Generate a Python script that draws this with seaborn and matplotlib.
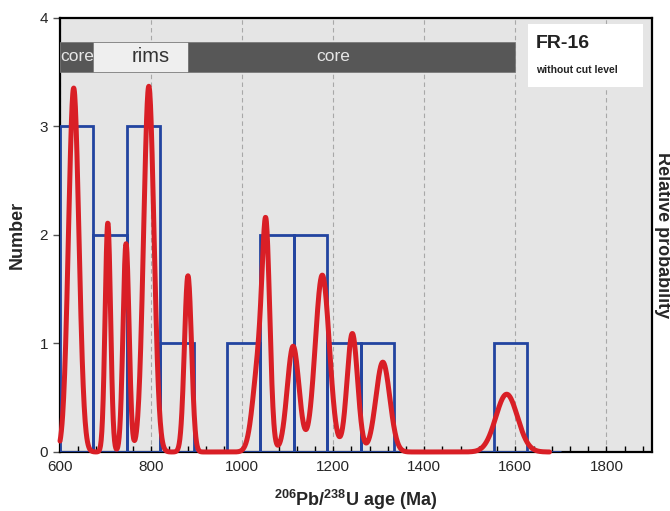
"""
FR-16 detrital zircon ages: histogram + relative probability curve.
Writes out.png
"""

import matplotlib
matplotlib.use("Agg")
import matplotlib.pyplot as plt
import matplotlib.patches as mpatches
import numpy as np
import seaborn as sns

# --- data ------------------------------------------------------------------
ages = [629, 630, 631, 705, 745, 792, 795, 798, 881,
        1039, 1053, 1112, 1172, 1180, 1242, 1309, 1581]
sigmas = [11.3, 11.3, 11.3, 6, 6.6, 11, 11, 11, 7.8,
          14, 8, 13, 15, 15, 11.6, 15.3, 23.8]

band_labels = ["core", "rims", "core"]
band_edges = [600, 673, 880, 1600]
band_text_x = [637, 800, 1200]
band_colors = ["#575757", "#efefef", "#575757"]
band_text_colors = ["#e6e6e6", "#333333", "#e6e6e6"]

x_ticks = [600, 800, 1000, 1200, 1400, 1600, 1800]
y_ticks = [0, 1, 2, 3, 4]

BIN_START, BIN_W, N_BINS = 600, 1100 / 15, 15
CURVE_END = 1675
CURVE_PEAK = 3.37   # height of the tallest peak on the count axis

RED = "#d91f26"
BLUE = "#2244a0"


def main():
    sns.set_theme(style="white")
    plt.rcParams["font.family"] = ["Liberation Sans", "DejaVu Sans"]
    plt.rcParams["mathtext.fontset"] = "custom"
    plt.rcParams["mathtext.rm"] = "Liberation Sans"
    plt.rcParams["mathtext.bf"] = "Liberation Sans:bold"

    fig = plt.figure(figsize=(6.7, 5.11), dpi=100)
    ax = fig.add_axes([0.0896, 0.1155, 0.8834, 0.8495])
    ax.set_facecolor("#e5e5e5")

    # vertical dashed grid
    for xv in x_ticks:
        ax.axvline(xv, color="#a8a8a8", linestyle=(0, (4, 3)),
                   linewidth=0.8, zorder=0.5)

    # histogram (drawn above the bottom spine, as in the original)
    edges = BIN_START + np.arange(N_BINS + 1) * BIN_W
    sns.histplot(x=ages, bins=edges, fill=False, element="bars",
                 color=BLUE, edgecolor=BLUE, linewidth=2, alpha=1,
                 ax=ax, zorder=2.6)

    # core / rims band
    for lab, x0, x1, tx, fc, tc in zip(band_labels, band_edges[:-1],
                                       band_edges[1:], band_text_x,
                                       band_colors, band_text_colors):
        ax.add_patch(mpatches.Rectangle((x0, 3.5), x1 - x0, 0.28,
                                        facecolor=fc, edgecolor="#7a7a7a",
                                        linewidth=0.6, zorder=3))
        ax.text(tx, 3.64, lab, ha="center", va="center", color=tc,
                fontsize=14.5 if lab == "rims" else 12.5, zorder=4)

    # sample label box
    ax.add_patch(mpatches.Rectangle((1628, 3.36), 252, 0.58,
                                    facecolor="white", edgecolor="none",
                                    zorder=3))
    ax.text(1645, 3.76, "FR-16", fontsize=14, fontweight="bold",
            va="center", color="#222222", zorder=4)
    ax.text(1645, 3.52, "without cut level", fontsize=7.5,
            fontweight="bold", va="center", color="#222222", zorder=4)

    ax.set_xlim(600, 1900)
    ax.set_ylim(0, 4)
    ax.set_xticks(x_ticks)
    ax.set_yticks(y_ticks)
    ax.set_xticks(np.arange(600, 1901, 40), minor=True)
    ax.tick_params(axis="x", which="both", direction="in", bottom=True,
                   length=4, width=1, labelsize=11, pad=6, color="black")
    ax.tick_params(axis="y", direction="out", left=True, length=5,
                   width=1, labelsize=11, color="#555555")
    for sp in ax.spines.values():
        sp.set_color("black")
        sp.set_linewidth(1.6)

    ax.set_ylabel("Number", fontsize=13, fontweight="bold", labelpad=10)
    ax.set_xlabel(r"$\mathbf{^{206}}$Pb/$\mathbf{^{238}}$U age (Ma)",
                  fontsize=13, fontweight="bold", labelpad=10)

    # relative probability curve on a twin axis
    ax2 = ax.twinx()
    xs = np.linspace(600, CURVE_END, 1500)
    a = np.array(ages, dtype=float)[:, None]
    s = np.array(sigmas, dtype=float)[:, None]
    dens = (np.exp(-0.5 * ((xs - a) / s) ** 2) / (s * np.sqrt(2 * np.pi))).sum(0)
    sns.lineplot(x=xs, y=dens, ax=ax2, color=RED, linewidth=3.6,
                 clip_on=False, zorder=5)
    ax2.set_ylim(0, dens.max() * 4 / CURVE_PEAK)
    ax2.set_yticks([])
    for sp in ax2.spines.values():
        sp.set_visible(False)
    ax2.set_ylabel("Relative probability", fontsize=13, fontweight="bold",
                   rotation=270, labelpad=14)

    fig.savefig("out.png", dpi=100, facecolor="white")


if __name__ == "__main__":
    main()
